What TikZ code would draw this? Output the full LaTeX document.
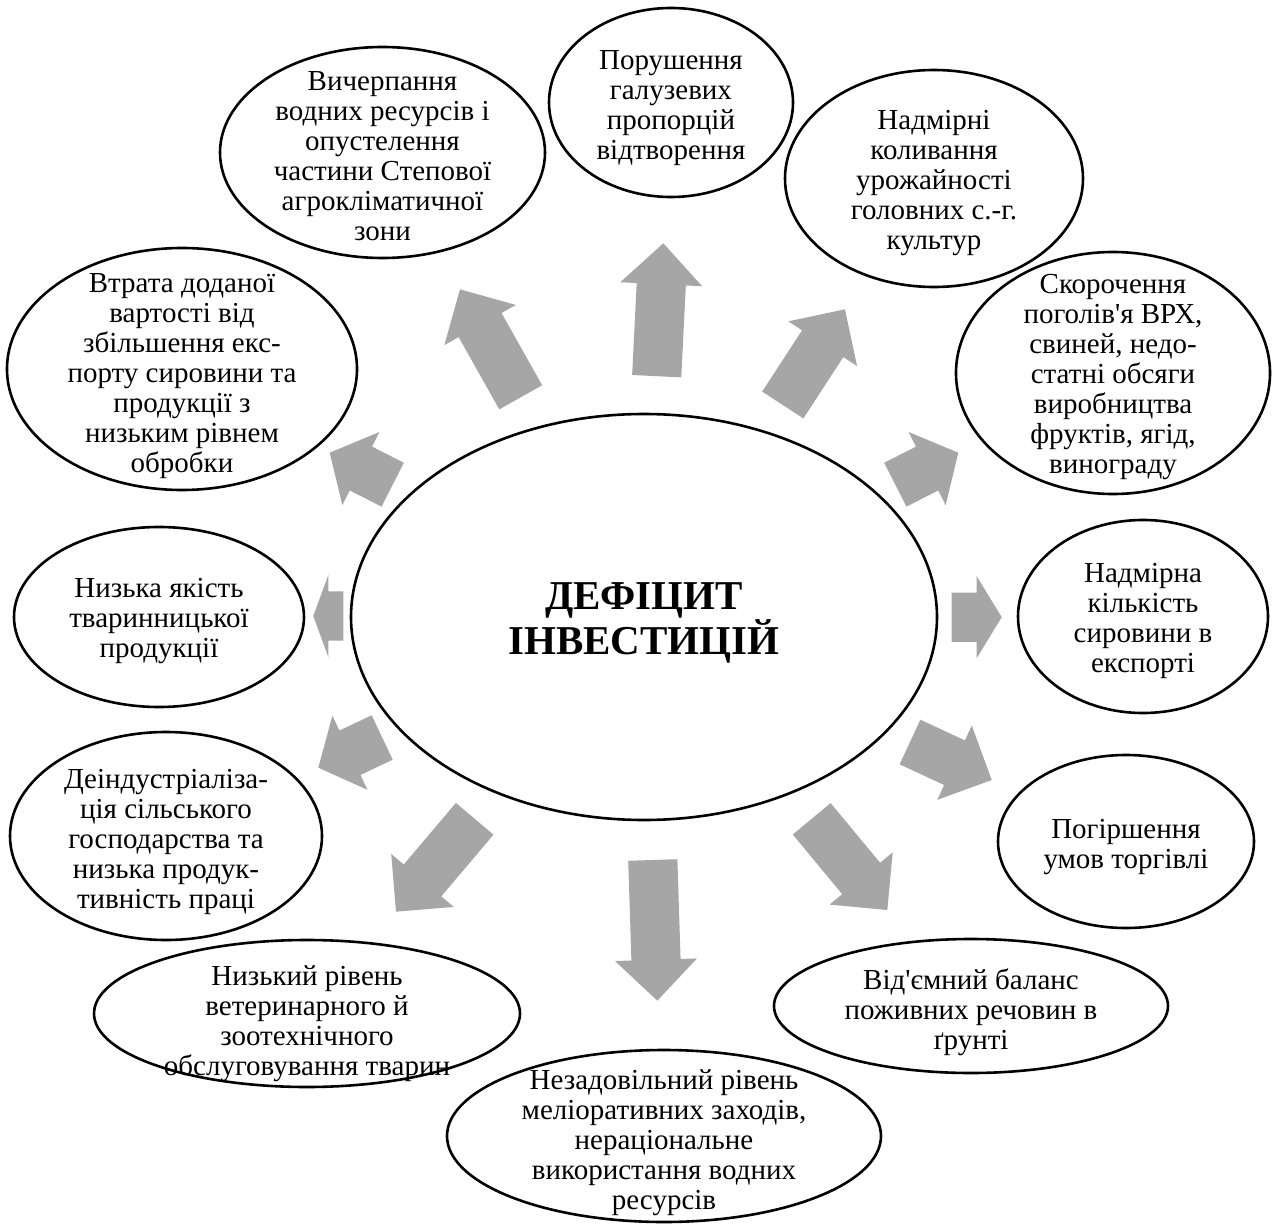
\documentclass[tikz,border=0pt]{standalone}
\usepackage{fontspec}
\setmainfont{Liberation Serif}
\usetikzlibrary{shapes.geometric,calc}
\definecolor{arrowgray}{RGB}{166,166,166}
\tikzset{
  bubble/.style={draw, ellipse, line width=2.6pt, fill=white, inner sep=0pt},
  btext/.style={align=center, inner sep=0pt, font=\fontsize{29}{30}\selectfont},
  hubtext/.style={align=center, inner sep=0pt, font=\fontsize{41}{36}\selectfont\bfseries}
}
\newcommand\blockarrow[3]{%
  \coordinate (hb) at ($(#2)!#3!(#1)$);
  \fill[arrowgray] ($(#1)!24.6pt!90:(#2)$) -- ($(hb)!24.6pt!90:(#2)$) -- ($(hb)!41pt!90:(#2)$) -- (#2)
    -- ($(hb)!41pt!-90:(#2)$) -- ($(hb)!24.6pt!-90:(#2)$) -- ($(#1)!24.6pt!-90:(#2)$) -- cycle;
}

\begin{document}
\begin{tikzpicture}[x=1pt,y=1pt,yscale=-1,xscale=1]
        \useasboundingbox (0,0) rectangle (1272,1225);

        \coordinate (a1t) at (520.7,397.3);  \coordinate (a1h) at (460,289.3);
        \coordinate (a2t) at (656.7,376.2);  \coordinate (a2h) at (663.3,243.3);
        \coordinate (a3t) at (782.8,405);    \coordinate (a3h) at (845,309.3);
        \coordinate (a4t) at (895.3,484.7);  \coordinate (a4h) at (958.3,452.7);
        \coordinate (a5t) at (951.7,617.2);  \coordinate (a5h) at (1001.7,617.2);
        \coordinate (a6t) at (910,742);      \coordinate (a6h) at (991.7,780);
        \coordinate (a7t) at (811.7,818.8);  \coordinate (a7h) at (887.3,910);
        \coordinate (a8t) at (652.8,860);    \coordinate (a8h) at (657.3,1000.7);
        \coordinate (a9t) at (474.7,818.8);  \coordinate (a9h) at (396,911.7);
        \coordinate (a10t) at (382.2,737.5); \coordinate (a10h) at (318.3,767.7);
        \coordinate (a11t) at (343.3,616);   \coordinate (a11h) at (313.3,616);
        \coordinate (a12t) at (392.7,484.7); \coordinate (a12h) at (329.7,452.7);

        \blockarrow{a1t}{a1h}{41pt}
        \blockarrow{a2t}{a2h}{41pt}
        \blockarrow{a3t}{a3h}{41pt}
        \blockarrow{a4t}{a4h}{35pt}
        \blockarrow{a5t}{a5h}{25pt}
        \blockarrow{a6t}{a6h}{41pt}
        \blockarrow{a7t}{a7h}{41pt}
        \blockarrow{a8t}{a8h}{41pt}
        \blockarrow{a9t}{a9h}{41pt}
        \blockarrow{a10t}{a10h}{35pt}
        \blockarrow{a11t}{a11h}{15pt}
        \blockarrow{a12t}{a12h}{35pt}

        \node [bubble, minimum width=586pt, minimum height=406pt] (hub) at (644,617) {};
        \node [hubtext] (hubt) at (644,623) {ДЕФІЦИТ\\ІНВЕСТИЦІЙ};

        \node [bubble, minimum width=325pt, minimum height=211pt] (depl) at (382.5,152.5) {};
        \node [btext] (deplt) at ($(depl)+(0,4)$) {Вичерпання\\водних ресурсів і\\опустелення\\частини Степової\\агрокліматичної\\зони};
        \node [bubble, minimum width=244pt, minimum height=189pt] (prop) at (671,102.5) {};
        \node [btext] (propt) at ($(prop)+(0,6)$) {Порушення\\галузевих\\пропорцій\\відтворення};
        \node [bubble, minimum width=298pt, minimum height=217pt] (yield) at (934,178.5) {};
        \node [btext] (yieldt) at ($(yield)+(0,5)$) {Надмірні\\коливання\\урожайності\\головних с.-г.\\культур};
        \node [bubble, minimum width=314pt, minimum height=242pt] (herd) at (1113,373) {};
        \node [btext] (herdt) at ($(herd)+(0,4)$) {Скорочення\\поголів\textquotesingle я ВРХ,\\свиней, недо-\\статні обсяги\\виробництва\\фруктів, ягід,\\винограду};
        \node [bubble, minimum width=250pt, minimum height=193pt] (raw) at (1143,616.5) {};
        \node [btext] (rawt) at ($(raw)+(0,4)$) {Надмірна\\кількість\\сировини в\\експорті};
        \node [bubble, minimum width=256pt, minimum height=173pt] (trade) at (1126,841.5) {};
        \node [btext] (tradet) at ($(trade)+(0,6)$) {Погіршення\\умов торгівлі};
        \node [bubble, minimum width=394pt, minimum height=134pt] (soil) at (971,1006) {};
        \node [btext] (soilt) at ($(soil)+(0,6)$) {Від\textquotesingle ємний баланс\\поживних речовин в\\ґрунті};
        \node [bubble, minimum width=434pt, minimum height=172pt] (melio) at (664,1136) {};
        \node [btext] (meliot) at ($(melio)+(0,7)$) {Незадовільний рівень\\меліоративних заходів,\\нераціональне\\використання водних\\ресурсів};
        \node [bubble, minimum width=426pt, minimum height=147pt] (vet) at (307,1013.5) {};
        \node [btext] (vett) at ($(vet)+(0,10)$) {Низький рівень\\ветеринарного й\\зоотехнічного\\обслуговування тварин};
        \node [bubble, minimum width=312pt, minimum height=208pt] (deind) at (166,836) {};
        \node [btext] (deindt) at ($(deind)+(0,6)$) {Деіндустріаліза-\\ція сільського\\господарства та\\низька продук-\\тивність праці};
        \node [bubble, minimum width=290pt, minimum height=180pt] (qual) at (159,617) {};
        \node [btext] (qualt) at ($(qual)+(0,4)$) {Низька якість\\тваринницької\\продукції};
        \node [bubble, minimum width=350pt, minimum height=242pt] (loss) at (182,369) {};
        \node [btext] (losst) at ($(loss)+(0,7)$) {Втрата доданої\\вартості від\\збільшення екс-\\порту сировини та\\продукції з\\низьким рівнем\\обробки};
\end{tikzpicture}
\end{document}
